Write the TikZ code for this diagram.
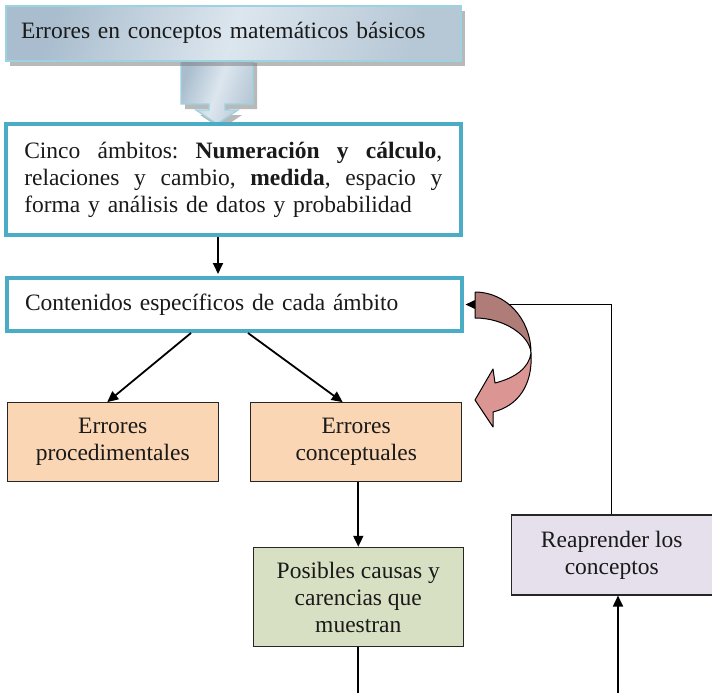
\documentclass[tikz,border=0pt]{standalone}
\usepackage{fontspec}
\setmainfont{Liberation Serif}
\usetikzlibrary{arrows.meta,calc,shadows}
\definecolor{cyanb}{HTML}{4BACC6}
\definecolor{cyanl}{HTML}{9CD3E1}
\definecolor{steelA}{HTML}{A9BDCE}
\definecolor{steelB}{HTML}{DCE6EE}
\definecolor{peach}{HTML}{FAD6B4}
\definecolor{sage}{HTML}{D8E0C3}
\definecolor{lav}{HTML}{E5E0EC}
\definecolor{roseA}{HTML}{B07C78}
\definecolor{roseB}{HTML}{DB9694}
\definecolor{ink}{HTML}{1A1A1A}
\begin{document}
\begin{tikzpicture}[x=1pt,y=-1pt,
  txt/.style={font=\fontsize{23.5}{27}\selectfont,text=ink},
  gradbox/.style={shading=axis,left color=steelA,right color=steelA!85!white,middle color=steelB,shading angle=70,draw=cyanl,line width=1.3pt},
  topshadow/.style={drop shadow={shadow xshift=4pt,shadow yshift=-5pt,fill=gray,opacity=0.55}},
  cyanbox/.style={draw=cyanb,line width=4pt,fill=white,inner sep=0pt,txt},
  plainbox/.style={draw=black!85,line width=1.1pt,inner sep=0pt,align=center,txt},
  conn/.style={line width=1.8pt,-{Triangle[length=11pt,width=10pt]}},
  plainline/.style={line width=1.8pt},
  curvedge/.style={draw=black,line width=1pt,line join=round}]
\useasboundingbox (0,0) rectangle (712,693);

% block arrow under the title box
\path[gradbox,topshadow] (181,58) -- (253,58) -- (253,104) -- (225,104) -- (225,110) -- (238,110)
  -- (217,124) -- (196,110) -- (209,110) -- (209,104) -- (181,104) -- cycle;

% title box
\node[gradbox,topshadow,txt,minimum width=455pt,minimum height=55pt,text width=425pt,
  align=left,inner xsep=15pt,inner ysep=0pt,text height=11pt,text depth=0pt] (top) at (233.5,33.5)
  {Errores en conceptos matemáticos básicos};

% five areas box
\node[cyanbox,minimum width=454.5pt,minimum height=111pt,text width=418pt,align=left,inner xsep=18.25pt]
  (cinco) at (233.25,179.5)
  {\makebox[418pt][l]{Cinco\hfill ámbitos:\hfill \textbf{Numeración}\hfill\textbf{y}\hfill\textbf{cálculo},}\\
   \makebox[418pt][l]{relaciones\hfill y\hfill cambio,\hfill \textbf{medida},\hfill espacio\hfill y}\\
   forma y análisis de datos y probabilidad};

% contents box
\node[cyanbox,minimum width=454.5pt,minimum height=53pt,text width=418.5pt,align=left,inner xsep=18pt]
  (cont) at (234.25,304.5) {Contenidos específicos de cada ámbito};

% error boxes
\node[plainbox,fill=peach,minimum width=211pt,minimum height=79pt] (proc) at (112.75,442.2)
  {Errores\\procedimentales};
\node[plainbox,fill=peach,minimum width=211pt,minimum height=79pt] (conc) at (356.2,442.2)
  {Errores\\conceptuales};
\node[plainbox,fill=sage,minimum width=210pt,minimum height=99.4pt] (pos) at (358.3,597)
  {Posibles causas y\\carencias que\\muestran};
\node[plainbox,fill=lav,minimum width=201pt,minimum height=80pt] (reap) at (611.75,555)
  {Reaprender los\\conceptos};

\coordinate (pb) at (358,693);
\coordinate (rb) at (618,693);

% connectors
\draw[conn,shorten >=2pt] ([xshift=-15.25pt]cinco.south) -- ([xshift=-16.25pt]cont.north);
\draw[conn] ([xshift=186pt]cont.south west) -- ([xshift=100.5pt]proc.north west);
\draw[conn] ([xshift=243pt]cont.south west) -- ([xshift=92.5pt]conc.north west);
\draw[conn] (conc.south -| pos.north) -- (pos.north);
\draw[plainline] (pos.south) -- (pos.south |- pb);
\draw[conn] (rb) -- (rb |- reap.south);
\draw[conn,line width=1.4pt,shorten >=2pt] (reap.north) |- (cont.east);

% curved arrow
\fill[roseA] (475,292) .. controls (506,292) and (531,319) .. (531,353)
  .. controls (530,336) and (505,318) .. (475,318) -- cycle;
\draw[curvedge] (475,292) .. controls (506,292) and (531,319) .. (531,353)
  (475,318) .. controls (505,318) and (530,336) .. (531,353) (475,292) -- (475,318);
\path[fill=roseB,curvedge] (531,353) .. controls (533,385) and (518,406) .. (493,412)
  -- (493,427) -- (475,400) -- (493,369) -- (495,383)
  .. controls (515,378) and (529,368) .. (531,353) -- cycle;
\end{tikzpicture}
\end{document}
